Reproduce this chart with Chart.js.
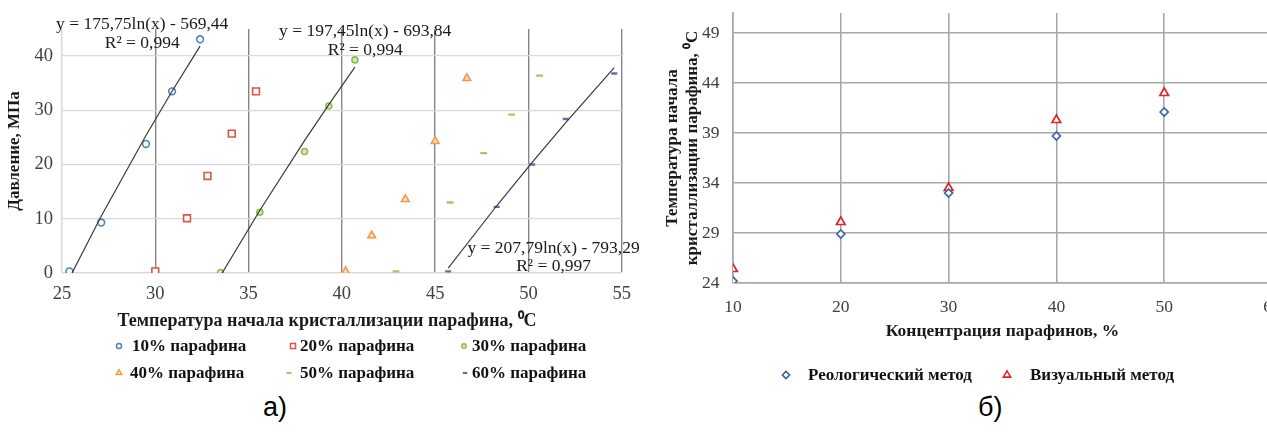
<!DOCTYPE html>
<html>
<head>
<meta charset="utf-8">
<script src="https://cdn.jsdelivr.net/npm/chart.js@4.4.1/dist/chart.umd.min.js"></script>
<style>
  html, body { margin: 0; padding: 0; background: #fff; overflow: hidden; }
  #wrap { position: relative; width: 1267px; height: 432px; overflow: hidden; background: #fff; }
  #wrap > canvas { position: absolute; top: 0; }
  .legtext { position: absolute; font: bold 17px "Liberation Serif", serif; line-height: 20px; color: #111; white-space: nowrap; }
  .axtitle { position: absolute; font: bold 18px "Liberation Serif", serif; line-height: 22px; color: #1a1a1a; white-space: nowrap; transform: translateX(-50%); }
  .cap { position: absolute; font: 27px "Liberation Sans", sans-serif; line-height: 30px; color: #000; }
</style>
</head>
<body>
<div id="wrap">
  <canvas id="ca" width="640" height="335" style="left:0;width:640px;height:335px"></canvas>
  <canvas id="cb" width="645" height="345" style="left:640px;width:645px;height:345px"></canvas>
  <div class="axtitle" style="left:327px;top:309px">Температура начала кристаллизации парафина, ⁰C</div>
  <div class="cap" style="left:263px;top:392px">а)</div>
  <div class="cap" style="left:978px;top:392px">б)</div>
</div>
<script>
// ---- Panel (а): pressure vs. wax appearance temperature ----
const seriesNames = ['10% парафина', '20% парафина', '30% парафина', '40% парафина', '50% парафина', '60% парафина'];
const temp10 = [25.4, 27.1, 29.5, 30.9, 32.4];
const press10 = [0.3, 9.3, 23.8, 33.5, 43.1];
const temp20 = [30.0, 31.7, 32.8, 34.1, 35.4];
const press20 = [0.3, 10.1, 17.9, 25.7, 33.5];
const temp30 = [33.5, 35.6, 38.0, 39.3, 40.7];
const press30 = [0.1, 11.2, 22.4, 30.8, 39.3];
const temp40 = [40.2, 41.6, 43.4, 45.0, 46.7];
const press40 = [0.3, 6.9, 13.6, 24.3, 35.9];
const temp50 = [42.9, 45.8, 47.6, 49.1, 50.6];
const press50 = [0.3, 13.0, 22.1, 29.2, 36.4];
const temp60 = [45.7, 48.3, 50.2, 52.0, 54.6];
const press60 = [0.3, 12.2, 20.0, 28.4, 36.8];
const tempTicks = [25, 30, 35, 40, 45, 50, 55];
const pressTicks = [0, 10, 20, 30, 40];

// logarithmic trend lines y = a·ln(x) + b (series index, a, b, R²)
const trendSeries = [0, 2, 5];
const trendSlope = [175.75, 197.45, 207.79];
const trendIntercept = [-569.44, -693.84, -793.29];
const trendR2 = [0.994, 0.994, 0.997];

// ---- Panel (б): wax appearance temperature vs. concentration ----
const concentrations = [10, 20, 30, 40, 50];
const rheoTemp = [24.2, 28.9, 33.0, 38.7, 41.1];
const visualTemp = [25.4, 30.1, 33.5, 40.3, 43.0];
const concTicks = [10, 20, 30, 40, 50, 60];
const watTicks = [24, 29, 34, 39, 44, 49];
const methodNames = ['Реологический метод', 'Визуальный метод'];

// ---- styling ----
Chart.defaults.font.family = '"Liberation Serif", "Times New Roman", serif';
const seriesTemps = [temp10, temp20, temp30, temp40, temp50, temp60];
const seriesPress = [press10, press20, press30, press40, press50, press60];
const ptStyle = ['circle', 'rect', 'circle', 'triangle', 'line', 'line'];
const ptColor = ['#4f81bd', '#e0504c', '#8dbb4c', '#f79646', '#a9c56c', '#7a62aa'];
const ptFill = ['#ffffff', '#ffffff', '#d7e8c0', '#fde3ca', '#a9c56c', '#7a62aa'];
const ptRadius = [3.4, 4.8, 3.0, 4.4, 3.4, 3.0];
const ptBorder = [1.6, 1.6, 1.6, 1.6, 2.4, 2.4];

const fmt2 = v => v.toFixed(2).replace('.', ',');
const eqText = k => `y = ${fmt2(trendSlope[k])}ln(x) - ${fmt2(-trendIntercept[k])}`;
const r2Text = k => `R² = ${trendR2[k].toFixed(3).replace('.', ',')}`;
// label anchors in data units: [x, y of equation, y of R²]
const trendLabelPos = [[29.3, 45.8, 42.3], [41.25, 44.5, 41.0], [51.35, 4.6, 1.2]];

const trendLabels = {
  id: 'trendLabels',
  afterDatasetsDraw(chart) {
    const { ctx, scales: { x, y } } = chart;
    ctx.save();
    ctx.font = '17.5px "Liberation Serif"';
    ctx.fillStyle = '#1a1a1a';
    ctx.textAlign = 'center';
    ctx.textBaseline = 'middle';
    trendSeries.forEach((si, k) => {
      const p = trendLabelPos[k];
      const px = x.getPixelForValue(p[0]);
      ctx.fillText(eqText(k), px, y.getPixelForValue(p[1]));
      ctx.fillText(r2Text(k), px, y.getPixelForValue(p[2]));
    });
    ctx.restore();
  }
};

const dsA = seriesTemps.map((temps, i) => ({
  label: seriesNames[i],
  data: temps.map((t, j) => ({ x: t, y: seriesPress[i][j] })),
  showLine: false,
  pointStyle: ptStyle[i],
  pointRadius: ptRadius[i],
  pointBorderWidth: ptBorder[i],
  pointBorderColor: ptColor[i],
  pointBackgroundColor: ptFill[i],
  order: 1
}));
trendSeries.forEach((si, k) => {
  dsA.push({
    label: 'trend ' + seriesNames[si],
    data: seriesTemps[si].map(t => ({ x: t, y: trendSlope[k] * Math.log(t) + trendIntercept[k] })),
    showLine: true,
    borderColor: '#3a3a3a',
    borderWidth: 1.2,
    pointRadius: 0,
    tension: 0,
    order: 0
  });
});

// fixed axis boxes so the plot areas land where wanted
const fixX = h => s => { s.height = h; s.paddingLeft = 0; s.paddingRight = 0; };
const fixY = w => s => { s.width = w; s.paddingTop = 0; s.paddingBottom = 0; };

new Chart(document.getElementById('ca'), {
  type: 'scatter',
  data: { datasets: dsA },
  plugins: [trendLabels],
  options: {
    responsive: false,
    animation: false,
    devicePixelRatio: 1,
    layout: { padding: { top: 29, right: 18.3, left: 0, bottom: 0 } },
    plugins: { legend: { display: false }, tooltip: { enabled: false } },
    scales: {
      x: {
        type: 'linear', min: 25, max: 55,
        afterBuildTicks: s => { s.ticks = tempTicks.map(v => ({ value: v })); },
        afterFit: fixX(62),
        grid: { color: c => (c.tick && c.tick.value === 25) ? '#d9d9d9' : '#858585', lineWidth: 1.4, drawTicks: false },
        border: { color: '#d9d9d9', width: 1.3 },
        ticks: { padding: 10, color: '#404040', font: { size: 18.5 } }
      },
      y: {
        type: 'linear', min: 0, max: 45,
        afterBuildTicks: s => { s.ticks = pressTicks.map(v => ({ value: v })); },
        afterFit: fixY(62),
        grid: { color: '#d9d9d9', lineWidth: 1.3, drawTicks: false },
        border: { color: '#d9d9d9', width: 1.3 },
        ticks: { padding: 9, color: '#404040', font: { size: 18.5 } },
        title: { display: true, text: 'Давление, МПа', color: '#1a1a1a',
                 font: { size: 17, weight: 'bold' }, padding: { top: 4.8, bottom: 0 } }
      }
    }
  }
});

new Chart(document.getElementById('cb'), {
  type: 'scatter',
  data: {
    datasets: [
      {
        label: methodNames[0],
        data: concentrations.map((c, i) => ({ x: c, y: rheoTemp[i] })),
        pointStyle: 'rectRot', pointRadius: 4, pointBorderWidth: 1.7,
        pointBorderColor: '#3a62a6', pointBackgroundColor: '#ffffff'
      },
      {
        label: methodNames[1],
        data: concentrations.map((c, i) => ({ x: c, y: visualTemp[i] })),
        pointStyle: 'triangle', pointRadius: 5, pointBorderWidth: 1.7,
        pointBorderColor: '#e0242c', pointBackgroundColor: '#ffffff'
      }
    ]
  },
  options: {
    responsive: false,
    animation: false,
    devicePixelRatio: 1,
    layout: { padding: { top: 13, right: 13, left: 0, bottom: 0 } },
    plugins: { legend: { display: false }, tooltip: { enabled: false } },
    scales: {
      x: {
        type: 'linear', min: 10, max: 60,
        afterBuildTicks: s => { s.ticks = concTicks.map(v => ({ value: v })); },
        afterFit: fixX(62),
        grid: { color: '#a8a8a8', lineWidth: 1.6, drawTicks: false },
        border: { color: '#a8a8a8', width: 1.6 },
        ticks: { padding: 13.5, color: '#404040', font: { size: 17.5 } },
        title: { display: true, text: 'Концентрация парафинов, %', color: '#1a1a1a',
                 font: { size: 17.5, weight: 'bold' }, padding: { top: 0, bottom: 3.5 } }
      },
      y: {
        type: 'linear', min: 24, max: 51,
        afterBuildTicks: s => { s.ticks = watTicks.map(v => ({ value: v })); },
        afterFit: fixY(93),
        grid: { color: '#a8a8a8', lineWidth: 1.6, drawTicks: false },
        border: { color: '#a8a8a8', width: 1.6 },
        ticks: { padding: 13.5, color: '#404040', font: { size: 17.5 } },
        title: { display: true, text: ['Температура начала', 'кристаллизации парафина, ⁰C'], color: '#1a1a1a',
                 font: { size: 17, weight: 'bold', lineHeight: 1.15 }, padding: { top: 23.2, bottom: 0 } }
      }
    }
  }
});

// ---- HTML legends ----
const wrap = document.getElementById('wrap');
function legendItem(name, style, color, fill, r, bw, mx, tx, y) {
  const c = document.createElement('canvas');
  c.width = 16; c.height = 16;
  c.style.cssText = `position:absolute;left:${mx - 8}px;top:${y - 8}px`;
  const ctx = c.getContext('2d');
  ctx.strokeStyle = color;
  ctx.fillStyle = fill;
  ctx.lineWidth = bw;
  if (Chart.helpers && Chart.helpers.drawPoint) {
    Chart.helpers.drawPoint(ctx, { pointStyle: style, radius: r, borderWidth: bw, rotation: 0 }, 8, 8);
  }
  wrap.appendChild(c);
  const s = document.createElement('div');
  s.className = 'legtext';
  s.textContent = name;
  s.style.left = tx + 'px';
  s.style.top = (y - 10) + 'px';
  wrap.appendChild(s);
}
const legA = [[119, 132, 346], [293, 300, 346], [464, 472, 346], [119, 130, 373], [289, 300, 373], [465, 472, 373]];
seriesNames.forEach((n, i) => {
  const p = legA[i];
  legendItem(n, ptStyle[i], ptColor[i], ptFill[i], ptRadius[i] * 0.75, ptBorder[i] * 0.9, p[0], p[1], p[2]);
});
legendItem(methodNames[0], 'rectRot', '#3a62a6', '#ffffff', 3.6, 1.6, 786, 808, 375);
legendItem(methodNames[1], 'triangle', '#e0242c', '#ffffff', 4.2, 1.6, 1007, 1030, 375);
</script>
</body>
</html>
